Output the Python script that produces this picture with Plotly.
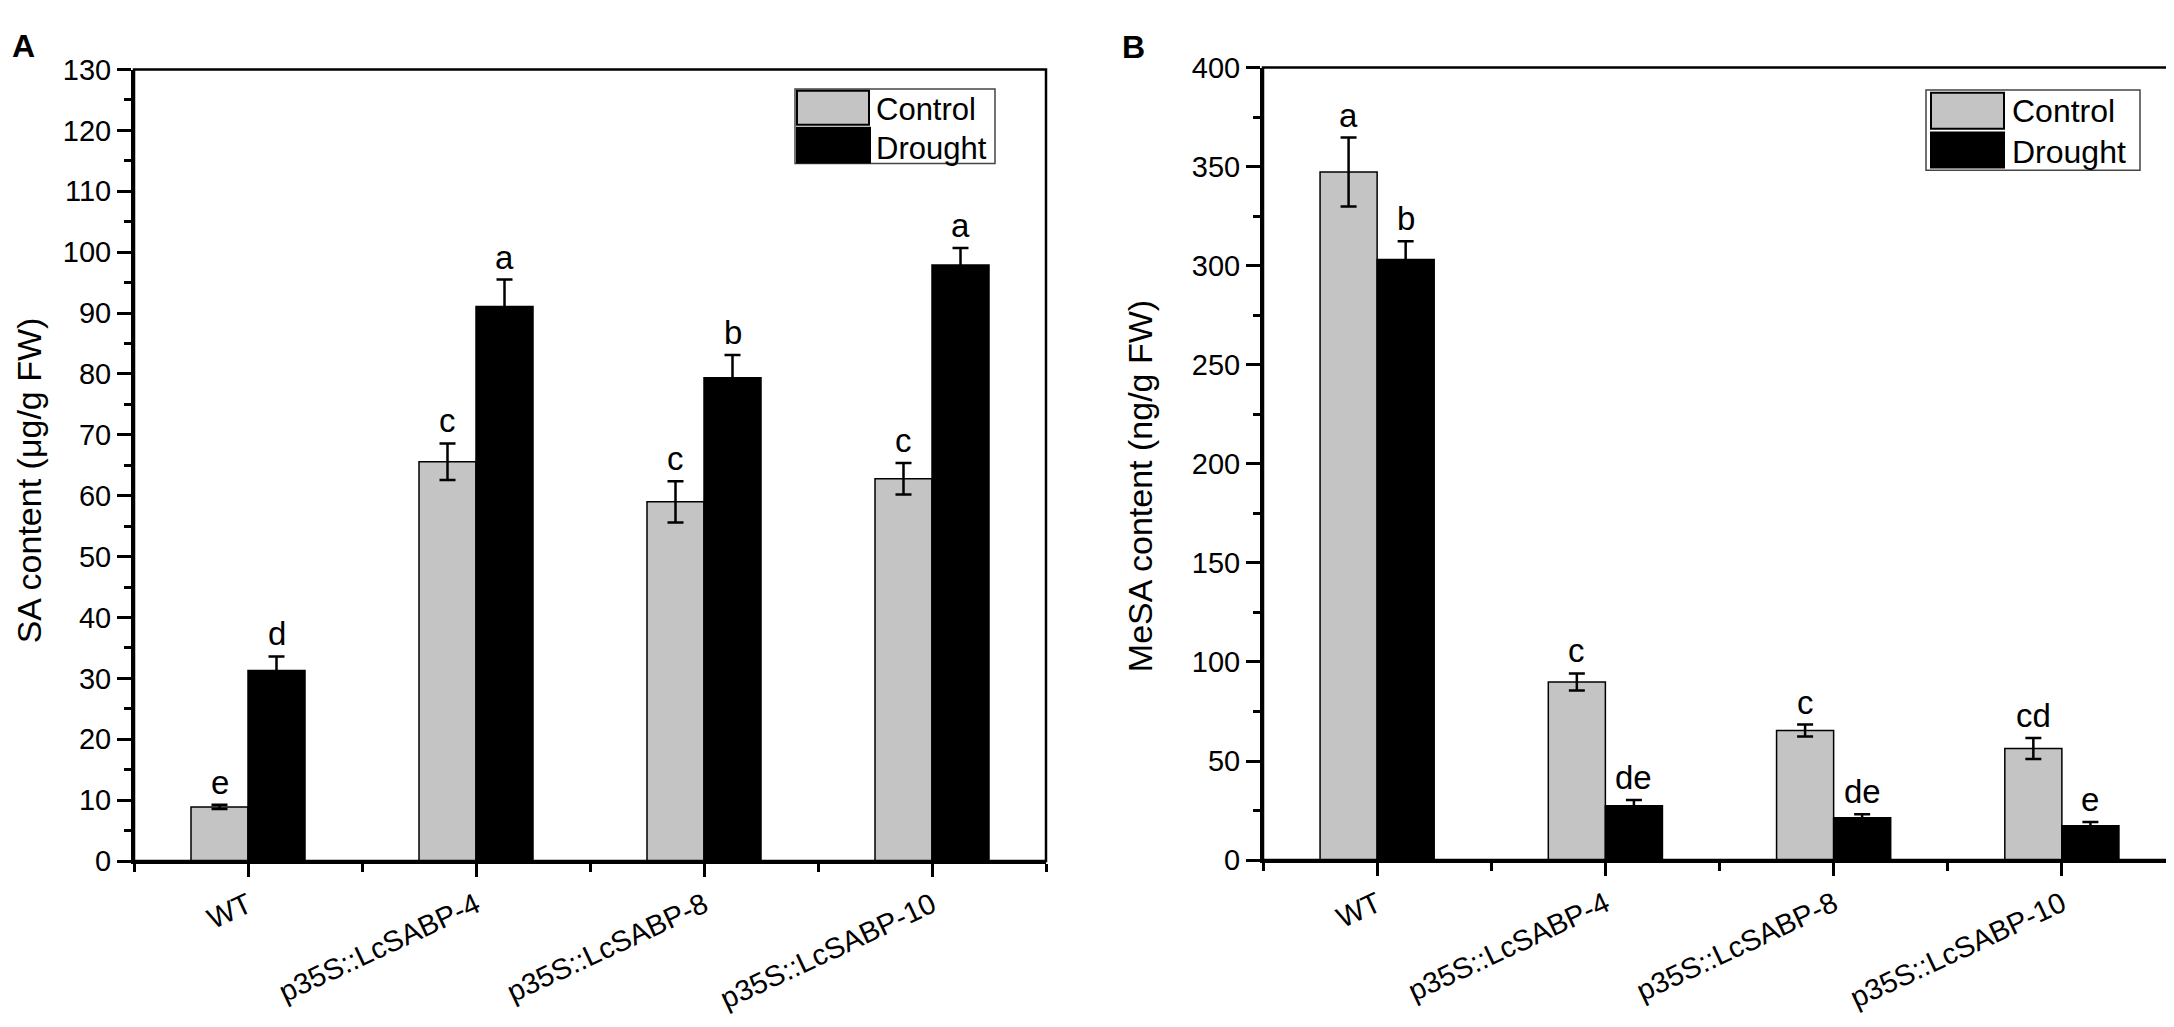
import plotly.graph_objects as go

W, H = 2174, 1027

# ---------------- data ----------------
categories = ["WT", "p35S::LcSABP-4", "p35S::LcSABP-8", "p35S::LcSABP-10"]

sa_control = [8.9, 65.6, 59.0, 62.8]
sa_control_err = [0.35, 3.0, 3.4, 2.6]
sa_drought = [31.3, 91.1, 79.4, 97.9]
sa_drought_err = [2.3, 4.4, 3.7, 2.8]
sa_control_letters = ["e", "c", "c", "c"]
sa_drought_letters = ["d", "a", "b", "a"]

mesa_control = [347.3, 89.9, 65.4, 56.3]
mesa_control_err = [17.4, 4.3, 3.0, 5.3]
mesa_drought = [303.2, 27.5, 21.4, 17.4]
mesa_drought_err = [9.1, 2.9, 1.7, 1.8]
mesa_control_letters = ["a", "c", "c", "cd"]
mesa_drought_letters = ["b", "de", "de", "e"]

sa_range = [0, 130]
sa_dtick = 10
mesa_range = [0, 400]
mesa_dtick = 50

series_names = ["Control", "Drought"]
# --------------------------------------

GRAY = "#c4c4c4"
FONT = "Liberation Sans, Arial, sans-serif"


def px(x):
    return x / W


def py(y):
    return 1 - y / H


xpos = list(range(len(categories)))

fig = go.Figure()


def add_panel(ctrl, ctrl_err, dr, dr_err, ctrl_let, dr_let, xa, ya):
    fig.add_trace(go.Bar(
        x=xpos, y=ctrl, name=series_names[0], offsetgroup="c",
        marker=dict(color=GRAY, line=dict(color="black", width=1.5)),
        error_y=dict(type="data", array=ctrl_err, color="black", thickness=2.5, width=8),
        xaxis=xa, yaxis=ya, showlegend=False))
    fig.add_trace(go.Bar(
        x=xpos, y=dr, name=series_names[1], offsetgroup="d",
        marker=dict(color="black", line=dict(color="black", width=1.5)),
        error_y=dict(type="data", array=dr_err, color="black", thickness=2.5, width=8),
        xaxis=xa, yaxis=ya, showlegend=False))
    for i in xpos:
        for off, v, e, t in ((-0.125, ctrl[i], ctrl_err[i], ctrl_let[i]),
                             (0.125, dr[i], dr_err[i], dr_let[i])):
            fig.add_annotation(x=i + off, y=v + e, text=t, xref=xa, yref=ya,
                               showarrow=False, yanchor="bottom", yshift=2,
                               font=dict(family=FONT, size=33, color="black"))


add_panel(sa_control, sa_control_err, sa_drought, sa_drought_err,
          sa_control_letters, sa_drought_letters, "x", "y")
add_panel(mesa_control, mesa_control_err, mesa_drought, mesa_drought_err,
          mesa_control_letters, mesa_drought_letters, "x2", "y2")

xaxis_common = dict(
    range=[-0.5, 3.5], tickmode="array", tickvals=xpos, ticktext=categories,
    tickangle=-25, ticks="outside", ticklen=13, tickwidth=2.5, tickcolor="black",
    showline=True, linewidth=3, linecolor="black", showgrid=False, zeroline=False,
    tickfont=dict(family=FONT, size=29, color="black"),
    minor=dict(tickmode="array", tickvals=[-0.5, 0.5, 1.5, 2.5, 3.5], ticks="outside",
               ticklen=8, tickwidth=2.5, tickcolor="black", showgrid=False),
    fixedrange=True,
)


def yaxis_common(rng, dt):
    return dict(
        range=rng, dtick=dt, tick0=0, ticks="outside", ticklen=14, tickwidth=2.5,
        tickcolor="black", showline=True, linewidth=3, linecolor="black",
        showgrid=False, zeroline=False,
        tickfont=dict(family=FONT, size=29, color="black"),
        minor=dict(dtick=dt / 2, ticks="outside", ticklen=7, tickwidth=2.5,
                   tickcolor="black", showgrid=False),
        fixedrange=True,
    )


A_x = [px(126), px(1038)]
A_y = [py(864), py(47)]
B_x = [px(1255), px(2168)]
B_y = [py(863), py(45)]

fig.update_layout(
    width=W, height=H, margin=dict(l=0, r=0, t=0, b=0),
    paper_bgcolor="white", plot_bgcolor="white",
    barmode="group", bargap=0.5, bargroupgap=0,
    showlegend=False,
    xaxis=dict(domain=A_x, anchor="y", **xaxis_common),
    yaxis=dict(domain=A_y, anchor="x", **yaxis_common(sa_range, sa_dtick)),
    xaxis2=dict(domain=B_x, anchor="y2", **xaxis_common),
    yaxis2=dict(domain=B_y, anchor="x2", **yaxis_common(mesa_range, mesa_dtick)),
)

# frames (top/right borders)
for xr, yr in (("x domain", "y domain"), ("x2 domain", "y2 domain")):
    fig.add_shape(type="rect", xref=xr, yref=yr, x0=0, x1=1, y0=0, y1=1,
                  line=dict(color="black", width=2.5), fillcolor="rgba(0,0,0,0)")


def add_legend(box, sw1, sw2, tx, ty1, ty2, fsize):
    fig.add_shape(type="rect", xref="paper", yref="paper",
                  x0=px(box[0]), x1=px(box[2]), y0=py(box[3]), y1=py(box[1]),
                  line=dict(color="#444444", width=1.5), fillcolor="white")
    for sw, col in ((sw1, GRAY), (sw2, "black")):
        fig.add_shape(type="rect", xref="paper", yref="paper",
                      x0=px(sw[0]), x1=px(sw[2]), y0=py(sw[3]), y1=py(sw[1]),
                      line=dict(color="black", width=2), fillcolor=col)
    for t, yy in ((series_names[0], ty1), (series_names[1], ty2)):
        fig.add_annotation(xref="paper", yref="paper", x=px(tx), y=py(yy), text=t,
                           showarrow=False, xanchor="left", yanchor="middle",
                           font=dict(family=FONT, size=fsize, color="black"))


add_legend((787, 67, 987, 144), (789, 69, 861, 104), (789, 107, 862, 143), 866, 88, 128, 31)
add_legend((1918, 68, 2132, 151), (1923, 71, 1996, 108), (1923, 112, 1996, 148), 2002, 90, 132, 32)

# y titles
fig.add_annotation(xref="paper", yref="paper", x=px(21), y=py(471),
                   text="SA content (\u03bcg/g FW)", textangle=-90, showarrow=False,
                   xanchor="center", yanchor="middle",
                   font=dict(family=FONT, size=34, color="black"))
fig.add_annotation(xref="paper", yref="paper", x=px(1132), y=py(477),
                   text="MeSA content (ng/g FW)", textangle=-90, showarrow=False,
                   xanchor="center", yanchor="middle",
                   font=dict(family=FONT, size=34, color="black"))

# panel labels
fig.add_annotation(xref="paper", yref="paper", x=px(2), y=py(2), text="<b>A</b>",
                   showarrow=False, xanchor="left", yanchor="top",
                   font=dict(family=FONT, size=32, color="black"))
fig.add_annotation(xref="paper", yref="paper", x=px(1112), y=py(3), text="<b>B</b>",
                   showarrow=False, xanchor="left", yanchor="top",
                   font=dict(family=FONT, size=32, color="black"))

fig.write_html("out.html")
